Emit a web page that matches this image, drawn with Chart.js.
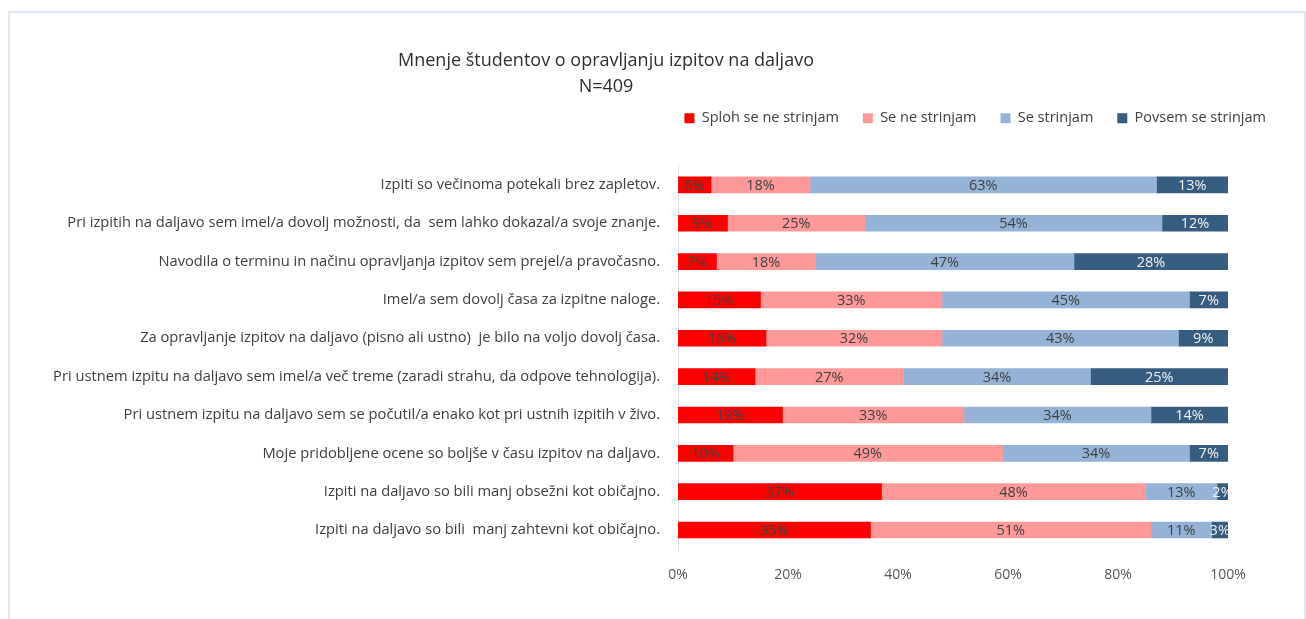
<!DOCTYPE html>
<html lang="sl">
<head>
  <meta charset="UTF-8" />
  <title>Mnenje študentov o opravljanju izpitov na daljavo</title>
  <script src="https://cdn.jsdelivr.net/npm/chart.js"></script>
  <style>
    html, body {
      margin: 0;
      padding: 0;
      background: #ffffff;
      overflow: hidden;
    }
    .frame {
      position: absolute;
      left: 8px;
      top: 11px;
      width: 1294px;
      height: 700px;
      border: 2px solid #dfe7f0;
    }
    .wrap {
      position: absolute;
      left: 0;
      top: 0;
      width: 1306px;
      height: 619px;
    }
  </style>
</head>
<body>
  <div class="frame"></div>
  <div class="wrap">
    <canvas id="chart" width="1306" height="619"></canvas>
  </div>

  <script>
    const titleLines = ["Mnenje študentov o opravljanju izpitov na daljavo", "N=409"];

    const categories = [
      "Izpiti so večinoma potekali brez zapletov.",
      "Pri izpitih na daljavo sem imel/a dovolj možnosti, da  sem lahko dokazal/a svoje znanje.",
      "Navodila o terminu in načinu opravljanja izpitov sem prejel/a pravočasno.",
      "Imel/a sem dovolj časa za izpitne naloge.",
      "Za opravljanje izpitov na daljavo (pisno ali ustno)  je bilo na voljo dovolj časa.",
      "Pri ustnem izpitu na daljavo sem imel/a več treme (zaradi strahu, da odpove tehnologija).",
      "Pri ustnem izpitu na daljavo sem se počutil/a enako kot pri ustnih izpitih v živo.",
      "Moje pridobljene ocene so boljše v času izpitov na daljavo.",
      "Izpiti na daljavo so bili manj obsežni kot običajno.",
      "Izpiti na daljavo so bili  manj zahtevni kot običajno."
    ];

    const seriesNames = ["Sploh se ne strinjam", "Se ne strinjam", "Se strinjam", "Povsem se strinjam"];

    const splohSeNe = [6, 9, 7, 15, 16, 14, 19, 10, 37, 35];
    const seNe      = [18, 25, 18, 33, 32, 27, 33, 49, 48, 51];
    const se        = [63, 54, 47, 45, 43, 34, 34, 34, 13, 11];
    const povsem    = [13, 12, 28, 7, 9, 25, 14, 7, 2, 3];

    const xTicks = [0, 20, 40, 60, 80, 100];

    const colors = ["#ff0000", "#ff9999", "#95b3d7", "#365c80"];
    const labelColors = ["#404040", "#404040", "#404040", "#f2f2f2"];

    const FONT = "'Open Sans', sans-serif";

    // percentage labels in the middle of every segment
    const segmentLabels = {
      id: "segmentLabels",
      afterDatasetsDraw(chart) {
        const ctx = chart.ctx;
        ctx.save();
        ctx.font = "14.5px " + FONT;
        ctx.textAlign = "center";
        ctx.textBaseline = "middle";
        chart.data.datasets.forEach((ds, i) => {
          const meta = chart.getDatasetMeta(i);
          meta.data.forEach((bar, j) => {
            const p = bar.getProps(["x", "y", "base"], true);
            ctx.fillStyle = labelColors[i];
            ctx.fillText(ds.data[j] + "%", (p.x + p.base) / 2, p.y + 1);
          });
        });
        ctx.restore();
      }
    };

    // move title and legend to where they sit in the original
    const placeBlocks = {
      id: "placeBlocks",
      afterLayout(chart) {
        const t = chart.titleBlock;
        if (t) {
          const cx = 606;
          const w = t.right - t.left;
          t.left = cx - w / 2;
          t.right = cx + w / 2;
          t.top = 61 - 13;
          t.bottom = t.top + t.height;
        }
        const l = chart.legend;
        if (l) {
          const pad = 24;
          const dx = (1266 + pad) - l.right;
          l.left += dx;
          l.right += dx;
          l.top = 118 - pad - 7;
          l.bottom = l.top + l.height;
        }
      }
    };

    const datasets = [splohSeNe, seNe, se, povsem].map((vals, i) => ({
      label: seriesNames[i],
      data: vals,
      backgroundColor: colors[i],
      borderWidth: 0,
      barThickness: 16
    }));

    new Chart(document.getElementById("chart"), {
      type: "bar",
      data: { labels: categories, datasets: datasets },
      plugins: [segmentLabels, placeBlocks],
      options: {
        indexAxis: "y",
        responsive: false,
        animation: false,
        devicePixelRatio: 1,
        layout: { padding: { top: 65, left: 0, right: 78, bottom: 27 } },
        plugins: {
          title: {
            display: true,
            text: titleLines,
            color: "#303030",
            font: { family: FONT, size: 18, weight: "normal", lineHeight: 1.45 },
            padding: { top: 0, bottom: 0 }
          },
          legend: {
            display: true,
            position: "top",
            align: "end",
            labels: {
              color: "#404040",
              font: { family: FONT, size: 14.5 },
              boxWidth: 10,
              boxHeight: 10,
              padding: 24
            }
          },
          tooltip: { enabled: false }
        },
        scales: {
          x: {
            stacked: true,
            min: 0,
            max: 100,
            afterBuildTicks(scale) {
              scale.ticks = xTicks.map(v => ({ value: v }));
            },
            grid: { display: false },
            border: { display: false },
            ticks: {
              color: "#595959",
              font: { family: FONT, size: 14 },
              padding: 9,
              callback: v => v + "%"
            }
          },
          y: {
            stacked: true,
            afterFit(scale) {
              scale.width = 678;
            },
            grid: { display: false },
            border: { display: true, color: "#d9e1ea", width: 1 },
            ticks: {
              color: "#404040",
              font: { family: FONT, size: 14.7 },
              padding: 10,
              autoSkip: false
            }
          }
        }
      }
    });
  </script>
</body>
</html>
